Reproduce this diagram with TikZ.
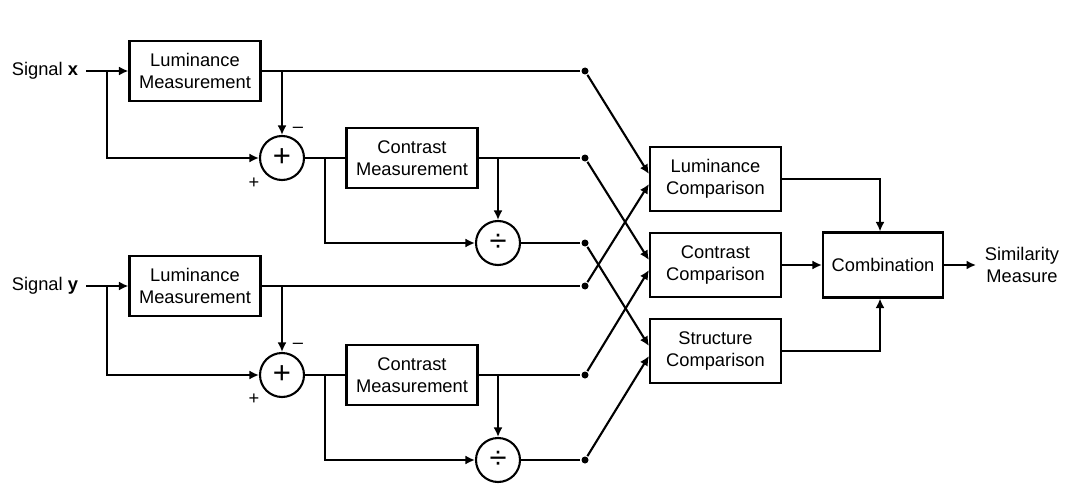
\documentclass[tikz,border=0pt]{standalone}
\usepackage{fontspec}
\setmainfont{Liberation Sans}
\usetikzlibrary{arrows.meta,calc}
\begin{document}
\begin{tikzpicture}[x=1pt,y=-1pt,
  line width=2.1pt,
  every node/.style={font=\fontsize{18.3}{21.5}\selectfont},
  box/.style={draw,rectangle,align=center,inner sep=0pt},
  mbox/.style={box,minimum width=131pt,minimum height=60pt},
  cbox/.style={box,minimum width=131pt,minimum height=64pt},
  op/.style={draw,circle,minimum size=44pt,inner sep=0pt,font=\fontsize{31}{31}\selectfont},
  sgn/.style={inner sep=0pt},
  dot/.style={circle,fill,inner sep=0pt,minimum size=7pt},
  arr/.style={-{Latex[length=9.5pt,width=9pt]}}
]
\useasboundingbox (0,0) rectangle (1067,484);

% ---------- signal x branch ----------
\node[sgn,anchor=east] (sx) at (79,71) {Signal \textbf{x}};
\coordinate (inx) at (86,71);
\coordinate (bx) at (107,71);
\node[mbox] (lm1) at (195,71) {Luminance\\Measurement};
\node[op] (sum1) at (282,158) {+};
\node[sgn] (m1) at (298,130) {\textendash};
\node[sgn] (p1) at (254,183) {+};
\node[mbox] (cm1) at (412,158) {Contrast\\Measurement};
\node[op] (div1) at (498,243) {÷};
\coordinate (t1) at (282,71);
\coordinate (b2) at (325,158);
\coordinate (t2) at (498,158);
\node[dot] (d1) at (585,71) {};
\node[dot] (d2) at (585,158) {};
\node[dot] (d3) at (585,243) {};

% ---------- signal y branch ----------
\node[sgn,anchor=east] (sy) at (79,286) {Signal \textbf{y}};
\coordinate (iny) at (86,286);
\coordinate (by) at (107,286);
\node[mbox] (lm2) at (195,286) {Luminance\\Measurement};
\node[op] (sum2) at (282,375) {+};
\node[sgn] (m2) at (298,346) {\textendash};
\node[sgn] (p2) at (254,399) {+};
\node[mbox] (cm2) at (412,375) {Contrast\\Measurement};
\node[op] (div2) at (498,460) {÷};
\coordinate (t3) at (282,286);
\coordinate (b4) at (325,375);
\coordinate (t4) at (498,375);
\node[dot] (d4) at (585,286) {};
\node[dot] (d5) at (585,375) {};
\node[dot] (d6) at (585,460) {};

% ---------- comparisons ----------
\node[cbox] (lc) at (715.5,179) {Luminance\\Comparison};
\node[cbox] (cc) at (715.5,265) {Contrast\\Comparison};
\node[cbox] (sc) at (715.5,351) {Structure\\Comparison};
\node[box,minimum width=120pt,minimum height=65pt] (comb) at (883,265) {Combination};
\coordinate (out) at (976,265);
\node[sgn,align=center] (sim) at (1022,265) {Similarity\\Measure};

% ---------- connectors x ----------
\draw[arr] (inx) -- (lm1.west);
\draw[arr] (bx) |- (sum1.west);
\draw (lm1.east) -- (d1);
\draw[arr] (t1) -- (sum1.north);
\draw (sum1.east) -- (cm1.west);
\draw[arr] (b2) |- (div1.west);
\draw (cm1.east) -- (d2);
\draw[arr] (t2) -- (div1.north);
\draw (div1.east) -- (d3);

% ---------- connectors y ----------
\draw[arr] (iny) -- (lm2.west);
\draw[arr] (by) |- (sum2.west);
\draw (lm2.east) -- (d4);
\draw[arr] (t3) -- (sum2.north);
\draw (sum2.east) -- (cm2.west);
\draw[arr] (b4) |- (div2.west);
\draw (cm2.east) -- (d5);
\draw[arr] (t4) -- (div2.north);
\draw (div2.east) -- (d6);

% ---------- crossings ----------
\draw[arr] (d1) -- ($(lc.west)+(0,-5)$);
\draw[arr] (d4) -- ($(lc.west)+(0,5)$);
\draw[arr] (d2) -- ($(cc.west)+(0,-5)$);
\draw[arr] (d5) -- ($(cc.west)+(0,5)$);
\draw[arr] (d3) -- ($(sc.west)+(0,-5)$);
\draw[arr] (d6) -- ($(sc.west)+(0,5)$);

% ---------- combination ----------
\draw[arr] (lc.east) -| ($(comb.north)+(-3,0)$);
\draw[arr] (cc.east) -- (comb.west);
\draw[arr] (sc.east) -| ($(comb.south)+(-3,0)$);
\draw[arr] (comb.east) -- (out);
\end{tikzpicture}
\end{document}
